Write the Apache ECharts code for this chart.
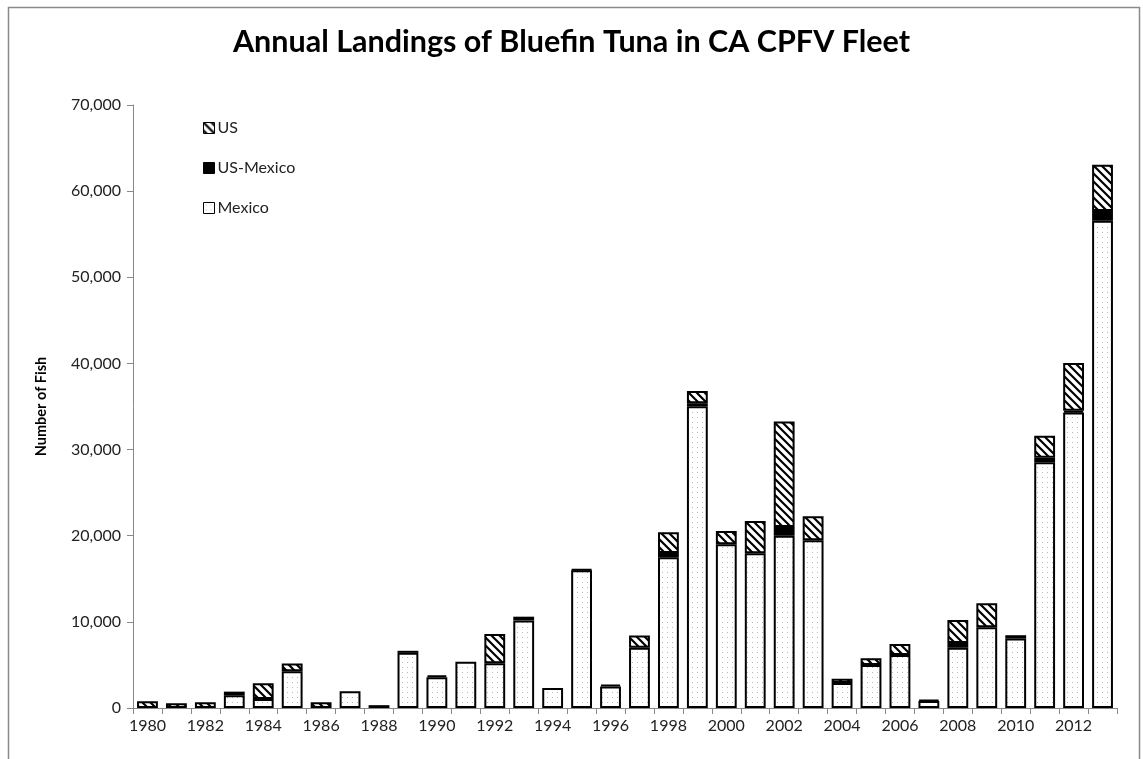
<!DOCTYPE html>
<html><head><meta charset="utf-8">
<script src="https://cdn.jsdelivr.net/npm/echarts@6/dist/echarts.min.js"></script>
<style>html,body{margin:0;padding:0;background:#fff}#c{width:1143px;height:759px}</style>
</head><body><div id="c"></div>
<script>
const years = ['1980','1981','1982','1983','1984','1985','1986','1987','1988','1989','1990','1991','1992','1993','1994','1995','1996','1997','1998','1999','2000','2001','2002','2003','2004','2005','2006','2007','2008','2009','2010','2011','2012','2013'];
const mexico   = [null,null,null,1470,1050,4270,null,1950,null,6400,3570,5360,5200,10170,2330,16000,2500,6980,17500,35030,19000,17960,20010,19470,2900,5000,6160,800,6980,9380,8060,28540,34300,56550];
const usMexico = [null,null,null,null,null,null,null,null,null,240,230,null,null,null,null,100,200,null,500,350,null,null,1000,null,null,null,null,150,580,null,390,500,200,1150];
const us       = [780,540,660,430,1820,890,660,null,330,null,null,null,3380,430,null,null,null,1440,2400,1430,1540,3740,12250,2780,500,780,1280,null,2670,2790,null,2550,5550,5370];
const yTicks = [0,10000,20000,30000,40000,50000,60000,70000];

function hatch(){
  const c=document.createElement('canvas');c.width=8;c.height=8;const g=c.getContext('2d');
  g.fillStyle='#fff';g.fillRect(0,0,8,8);g.strokeStyle='#000';g.lineWidth=2.2;
  g.beginPath();g.moveTo(-2,-2);g.lineTo(10,10);g.moveTo(-2,6);g.lineTo(2,10);g.moveTo(6,-2);g.lineTo(10,2);g.stroke();
  return c;
}
function dots(){
  const c=document.createElement('canvas');c.width=5;c.height=5;const g=c.getContext('2d');
  g.fillStyle='#fff';g.fillRect(0,0,5,5);g.fillStyle='#b8b8b8';g.fillRect(2,2,1,1);
  return c;
}
const chart=echarts.init(document.getElementById('c'),null,{renderer:'canvas'});
const font='Lato';
chart.setOption({
  animation:false,
  backgroundColor:'#fff',
  title:{text:'Annual Landings of Bluefin Tuna in CA CPFV Fleet',left:'center',top:22,
    textStyle:{fontFamily:font,fontWeight:'bold',fontSize:30.5,color:'#000'}},
  graphic:[{type:'rect',shape:{x:8.5,y:7.5,width:1131,height:800},style:{fill:null,stroke:'#8a8a8a',lineWidth:1.5},silent:true}],
  legend:{orient:'vertical',left:198,top:115,icon:'rect',itemWidth:11,itemHeight:11,itemGap:24,
    data:['US','US-Mexico','Mexico'],
    itemStyle:{borderWidth:1,borderColor:'#000'},
    textStyle:{fontFamily:font,fontSize:16,color:'#222',padding:[0,0,0,-2]}},
  grid:{left:133,right:26,top:105,bottom:51,containLabel:false},
  xAxis:{type:'category',data:years,boundaryGap:true,
    axisLine:{lineStyle:{color:'#888',width:1}},
    axisTick:{show:true,interval:0,length:6,lineStyle:{color:'#888'}},
    axisLabel:{interval:1,fontFamily:font,fontSize:16,color:'#222',margin:10}},
  yAxis:{type:'value',min:0,max:70000,interval:10000,
    name:'Number of Fish',nameLocation:'middle',nameGap:84,nameRotate:90,
    nameTextStyle:{fontFamily:font,fontWeight:'bold',fontSize:14.5,color:'#000'},
    splitLine:{show:false},
    axisLine:{show:true,lineStyle:{color:'#888'}},
    axisTick:{show:true,length:6,lineStyle:{color:'#888'}},
    axisLabel:{fontFamily:font,fontSize:16,color:'#222',margin:12,
      formatter:v=>v.toLocaleString('en-US')}},
  series:[
    {name:'Mexico',type:'bar',stack:'t',data:mexico,barWidth:'72%',
      itemStyle:{color:{image:dots(),repeat:'repeat'},borderColor:'#000',borderWidth:2}},
    {name:'US-Mexico',type:'bar',stack:'t',data:usMexico,barWidth:'72%',
      itemStyle:{color:'#000',borderColor:'#000',borderWidth:2}},
    {name:'US',type:'bar',stack:'t',data:us,barWidth:'72%',
      itemStyle:{color:{image:hatch(),repeat:'repeat'},borderColor:'#000',borderWidth:2}}
  ]
});
</script></body></html>
